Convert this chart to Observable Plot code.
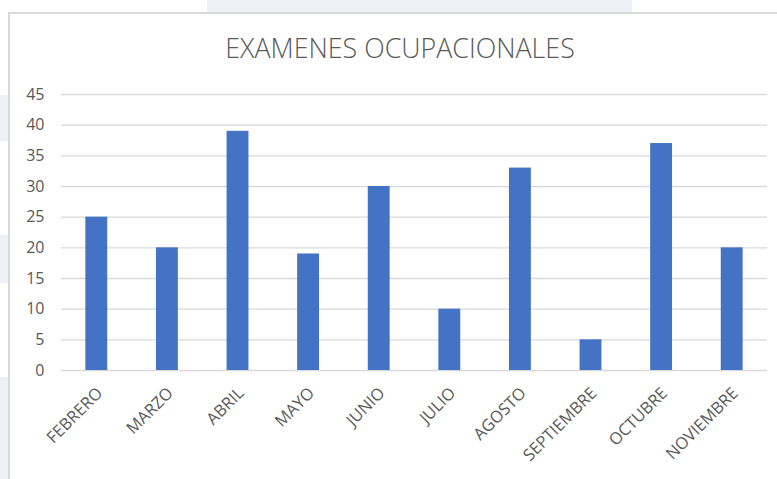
<!DOCTYPE html>
<html>
<head>
<meta charset="utf-8">
<script src="https://cdn.jsdelivr.net/npm/d3@7"></script>
<script src="https://cdn.jsdelivr.net/npm/@observablehq/plot@0.6"></script>
<style>
  html, body { margin: 0; padding: 0; background: #ffffff; width: 777px; height: 479px; overflow: hidden; }
  .patch { position: absolute; background: #eef0f8; }
  #frame { position: absolute; left: 8px; top: 12px; width: 800px; height: 500px; border: 2px solid #d9d9d9; background: #fff; box-sizing: border-box; }
  #title { position: absolute; left: 0; top: 29px; width: 800px; text-align: center; font-family: "Open Sans", sans-serif; font-weight: 300; font-size: 26.8px; color: #595959; }
  #chart { position: absolute; left: 0; top: 0; }
</style>
</head>
<body>
<div class="patch" style="left:207px;top:0;width:425px;height:12px;"></div>
<div class="patch" style="left:0;top:95px;width:8px;height:46px;"></div>
<div class="patch" style="left:0;top:235px;width:8px;height:48px;"></div>
<div class="patch" style="left:0;top:377px;width:8px;height:102px;"></div>
<div id="frame"></div>
<div id="title">EXAMENES OCUPACIONALES</div>
<div id="chart"></div>
<script>
const months = ["FEBRERO", "MARZO", "ABRIL", "MAYO", "JUNIO", "JULIO", "AGOSTO", "SEPTIEMBRE", "OCTUBRE", "NOVIEMBRE"];
const values = [25, 20, 39, 19, 30, 10, 33, 5, 37, 20];
const yTicks = [0, 5, 10, 15, 20, 25, 30, 35, 40, 45];

const data = months.map((m, i) => ({month: m, value: values[i]}));

const chart = Plot.plot({
  width: 777,
  height: 479,
  marginLeft: 61,
  marginRight: 10,
  marginTop: 94,
  marginBottom: 109,
  style: {background: "transparent", fontFamily: "'Open Sans', sans-serif", color: "#595959"},
  x: {domain: months, paddingInner: 0.69, paddingOuter: 0.345, round: false, label: null},
  y: {domain: [0, 45], label: null},
  marks: [
    Plot.gridY(yTicks, {stroke: "#d9d9d9", strokeOpacity: 1, strokeWidth: 1.4}),
    Plot.barY(data, {x: "month", y: "value", fill: "#4472c4"}),
    Plot.axisY(yTicks, {tickSize: 0, tickPadding: 17, fontSize: 16, fill: "#595959", label: null}),
    Plot.axisX({tickSize: 0, tickPadding: 20, dx: 3, tickRotate: -45, fontSize: 16.5, fill: "#595959", label: null})
  ]
});
document.getElementById("chart").appendChild(chart);
</script>
</body>
</html>
